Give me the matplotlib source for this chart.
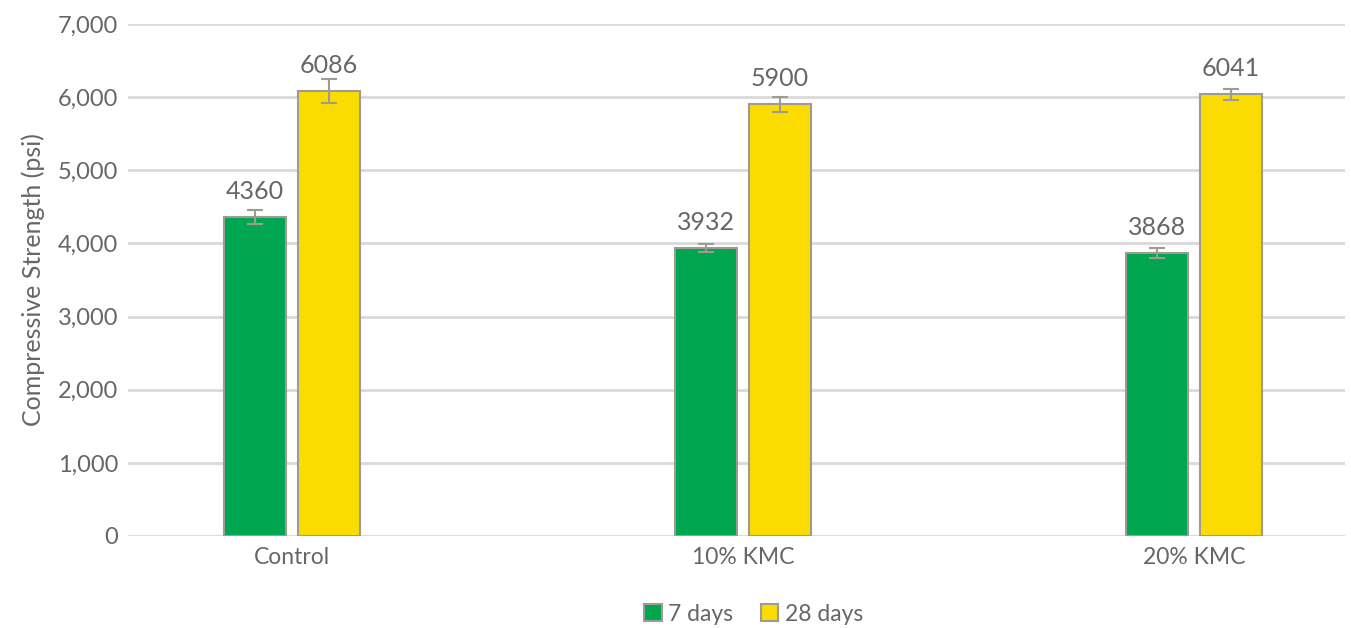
import matplotlib.pyplot as plt
import numpy as np
from matplotlib.ticker import FuncFormatter

# === данные ===
categories = ["Control", "10% KMC", "20% KMC"]
days7 = [4360, 3932, 3868]
days28 = [6086, 5900, 6041]
err7 = [100, 55, 70]
err28 = [160, 100, 75]
series_names = ["7 days", "28 days"]

green = "#00A650"
yellow = "#FADC00"
edge = "#A09A94"
txt = "#666666"

plt.rcParams['font.family'] = ['Lato', 'DejaVu Sans']
plt.rcParams['font.size'] = 16

fig = plt.figure(figsize=(13.51, 6.28), dpi=100)
ax = fig.add_axes([0.0947, 0.1465, 0.9009, 0.8153])

x = np.arange(len(categories))
w = 0.137
off = 0.082

b1 = ax.bar(x - off, days7, w, color=green, edgecolor=edge, linewidth=1.5,
            label=series_names[0], zorder=3)
b2 = ax.bar(x + off, days28, w, color=yellow, edgecolor=edge, linewidth=1.5,
            label=series_names[1], zorder=3)
ax.errorbar(x - off, days7, yerr=err7, fmt='none', ecolor=edge, elinewidth=1.5,
            capsize=6, capthick=1.5, zorder=4)
ax.errorbar(x + off, days28, yerr=err28, fmt='none', ecolor=edge, elinewidth=1.5,
            capsize=6, capthick=1.5, zorder=4)

# подписи значений
for bars, vals in ((b1, days7), (b2, days28)):
    for rect, v in zip(bars, vals):
        ax.annotate(str(v), (rect.get_x() + rect.get_width() / 2, v),
                    xytext=(0, 13), textcoords="offset points",
                    ha="center", va="baseline", color=txt, fontsize=18)

ax.set_ylim(0, 7000)
ax.set_yticks(range(0, 7001, 1000))
ax.yaxis.set_major_formatter(FuncFormatter(lambda v, p: f"{int(v):,}"))
ax.set_xlim(-0.3636, 2.335)
ax.set_xticks(x)
ax.set_xticklabels(categories)
ax.tick_params(axis='both', length=0, colors=txt)
ax.tick_params(axis='x', pad=8, labelsize=16.5)
ax.tick_params(axis='y', pad=7, labelsize=17)
ax.set_ylabel("Compressive Strength (psi)", color=txt, fontsize=18, labelpad=9)

ax.grid(axis='y', color="#D9D9D9", linewidth=2, zorder=0)
for s in ax.spines.values():
    s.set_visible(False)

fig.legend(handles=[b1, b2], loc='center', bbox_to_anchor=(0.558, 0.022),
           ncol=2, frameon=False, fontsize=16.5, handlelength=0.75, handleheight=0.75,
           handletextpad=0.3, columnspacing=1.2, labelcolor=txt)

plt.savefig("out.png", dpi=100)
